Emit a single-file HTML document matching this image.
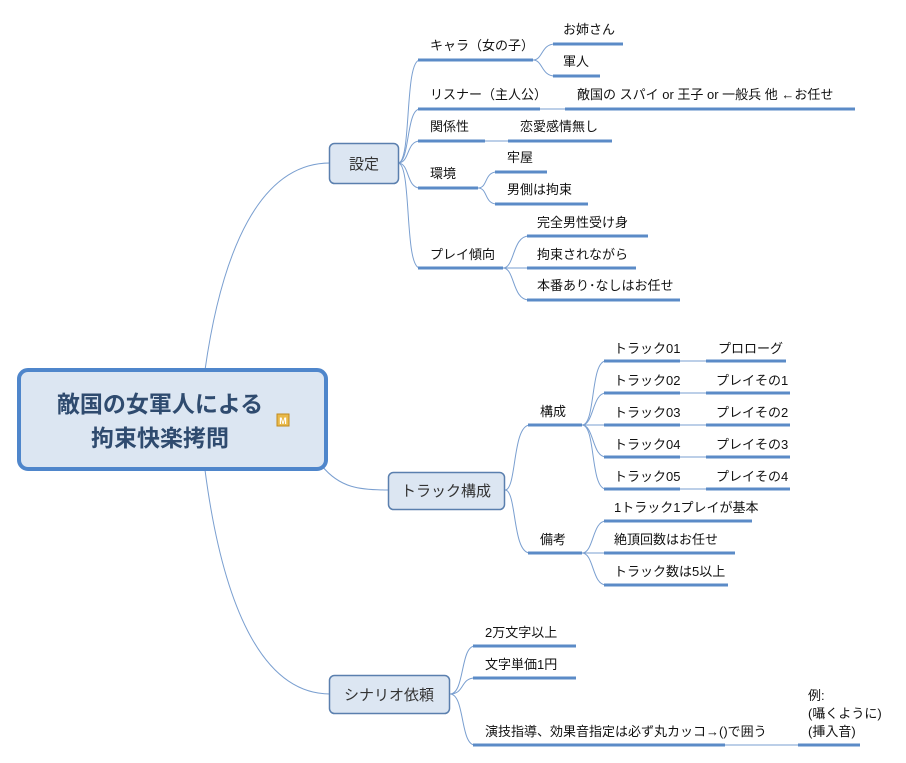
<!DOCTYPE html>
<html><head><meta charset="utf-8"><style>
html,body{margin:0;padding:0;background:#fff;width:906px;height:763px;overflow:hidden}
svg text{font-family:"Liberation Sans","Noto Sans CJK JP",sans-serif;fill:#111;font-size:13px}
</style></head><body>
<svg width="906" height="763" viewBox="0 0 906 763" xmlns="http://www.w3.org/2000/svg">
<g fill="none" stroke="#7a9fd0" stroke-width="1">
<path d="M205,370 C222,250 260,163 330,163"/>
<path d="M322,466 C340,488 360,490 388,490"/>
<path d="M205,470 C222,600 260,694 330,694"/>
<path d="M398,163 C412,163 404,60 420,60"/>
<path d="M398,163 C410,163 406,109 420,109"/>
<path d="M398,163 C410,163 406,141 420,141"/>
<path d="M398,163 C410,163 406,188 420,188"/>
<path d="M398,163 C412,163 404,268 420,268"/>
<path d="M533,60 C543,60 541,44 555,44"/>
<path d="M533,60 C543,60 541,76 555,76"/>
<path d="M540,109 L565,109"/>
<path d="M485,141 L508,141"/>
<path d="M478,188 C488,188 484,172 497,172"/>
<path d="M478,188 C488,188 484,204 497,204"/>
<path d="M503,268 C515,268 512,236 529,236"/>
<path d="M503,268 L529,268"/>
<path d="M503,268 C515,268 512,300 529,300"/>
<path d="M505,490 C517,490 512,425 530,425"/>
<path d="M505,490 C517,490 512,553 530,553"/>
<path d="M582,425 C596,425 590,361 606,361"/>
<path d="M582,425 C594,425 592,393 606,393"/>
<path d="M582,425 L606,425"/>
<path d="M582,425 C594,425 592,457 606,457"/>
<path d="M582,425 C596,425 590,489 606,489"/>
<path d="M680,361 L706,361"/><path d="M680,393 L706,393"/><path d="M680,425 L706,425"/><path d="M680,457 L706,457"/><path d="M680,489 L706,489"/>
<path d="M582,553 C594,553 592,521 606,521"/>
<path d="M582,553 L606,553"/>
<path d="M582,553 C594,553 592,585 606,585"/>
<path d="M450,694 C465,694 460,646 475,646"/>
<path d="M450,694 C465,694 460,678 475,678"/>
<path d="M450,694 C465,694 460,745 475,745"/>
<path d="M725,745 L798,745"/>
</g>
<g stroke="#5b8bc7" stroke-width="3" fill="none">
<path d="M418,60H533"/><path d="M553,44H623"/><path d="M553,76H600"/>
<path d="M418,109H540"/><path d="M565,109H855"/>
<path d="M418,141H485"/><path d="M508,141H612"/>
<path d="M418,188H478"/><path d="M495,172H547"/><path d="M495,204H588"/>
<path d="M418,268H503"/><path d="M527,236H648"/><path d="M527,268H636"/><path d="M527,300H680"/>
<path d="M528,425H582"/><path d="M528,553H582"/>
<path d="M604,361H680"/><path d="M604,393H680"/><path d="M604,425H680"/><path d="M604,457H680"/><path d="M604,489H680"/>
<path d="M706,361H786"/><path d="M706,393H790"/><path d="M706,425H790"/><path d="M706,457H790"/><path d="M706,489H790"/>
<path d="M604,521H752"/><path d="M604,553H735"/><path d="M604,585H728"/>
<path d="M473,646H576"/><path d="M473,678H576"/><path d="M473,745H725"/><path d="M798,745H860"/>
</g>
<rect x="19" y="370" width="307" height="99" rx="9" fill="#dce6f2" stroke="#4f86cb" stroke-width="4"/>
<text x="160" y="412" text-anchor="middle" style="font-size:23px;font-weight:bold;fill:#2f4b6f">敵国の女軍人による</text>
<text x="160" y="446" text-anchor="middle" style="font-size:23px;font-weight:bold;fill:#2f4b6f">拘束快楽拷問</text>
<rect x="277" y="414" width="12" height="12" fill="#e9b94a" stroke="#c08a20"/>
<text x="283" y="424" text-anchor="middle" style="font-size:9px;font-weight:bold;fill:#fff">M</text>
<rect x="329.5" y="143.5" width="69" height="40" rx="5" fill="#dce6f2" stroke="#5a7fae" stroke-width="1.5"/>
<text x="364" y="169" text-anchor="middle" style="font-size:15px;fill:#333">設定</text>
<rect x="388.5" y="472.5" width="116" height="37" rx="5" fill="#dce6f2" stroke="#5a7fae" stroke-width="1.5"/>
<text x="446" y="496" text-anchor="middle" style="font-size:15px;fill:#333">トラック構成</text>
<rect x="329.5" y="675.5" width="120" height="38" rx="5" fill="#dce6f2" stroke="#5a7fae" stroke-width="1.5"/>
<text x="389" y="700" text-anchor="middle" style="font-size:15px;fill:#333">シナリオ依頼</text>
<text x="430" y="50">キャラ（女の子）</text>
<text x="563" y="34">お姉さん</text>
<text x="563" y="66">軍人</text>
<text x="430" y="99">リスナー（主人公）</text>
<text x="577" y="99">敵国の スパイ or 王子 or 一般兵  他  ←お任せ</text>
<text x="430" y="131">関係性</text>
<text x="520" y="131">恋愛感情無し</text>
<text x="430" y="178">環境</text>
<text x="507" y="162">牢屋</text>
<text x="507" y="194">男側は拘束</text>
<text x="430" y="259">プレイ傾向</text>
<text x="537" y="227">完全男性受け身</text>
<text x="537" y="259">拘束されながら</text>
<text x="537" y="290">本番あり･なしはお任せ</text>
<text x="540" y="416">構成</text>
<text x="540" y="544">備考</text>
<text x="614" y="353">トラック01</text><text x="718" y="353">プロローグ</text>
<text x="614" y="385">トラック02</text><text x="716" y="385">プレイその1</text>
<text x="614" y="417">トラック03</text><text x="716" y="417">プレイその2</text>
<text x="614" y="449">トラック04</text><text x="716" y="449">プレイその3</text>
<text x="614" y="481">トラック05</text><text x="716" y="481">プレイその4</text>
<text x="614" y="512">1トラック1プレイが基本</text>
<text x="614" y="544">絶頂回数はお任せ</text>
<text x="614" y="576">トラック数は5以上</text>
<text x="485" y="637">2万文字以上</text>
<text x="485" y="669">文字単価1円</text>
<text x="485" y="736">演技指導、効果音指定は必ず丸カッコ→()で囲う</text>
<text x="808" y="700">例:</text>
<text x="808" y="718">(囁くように)</text>
<text x="808" y="736">(挿入音)</text>
</svg>
</body></html>
